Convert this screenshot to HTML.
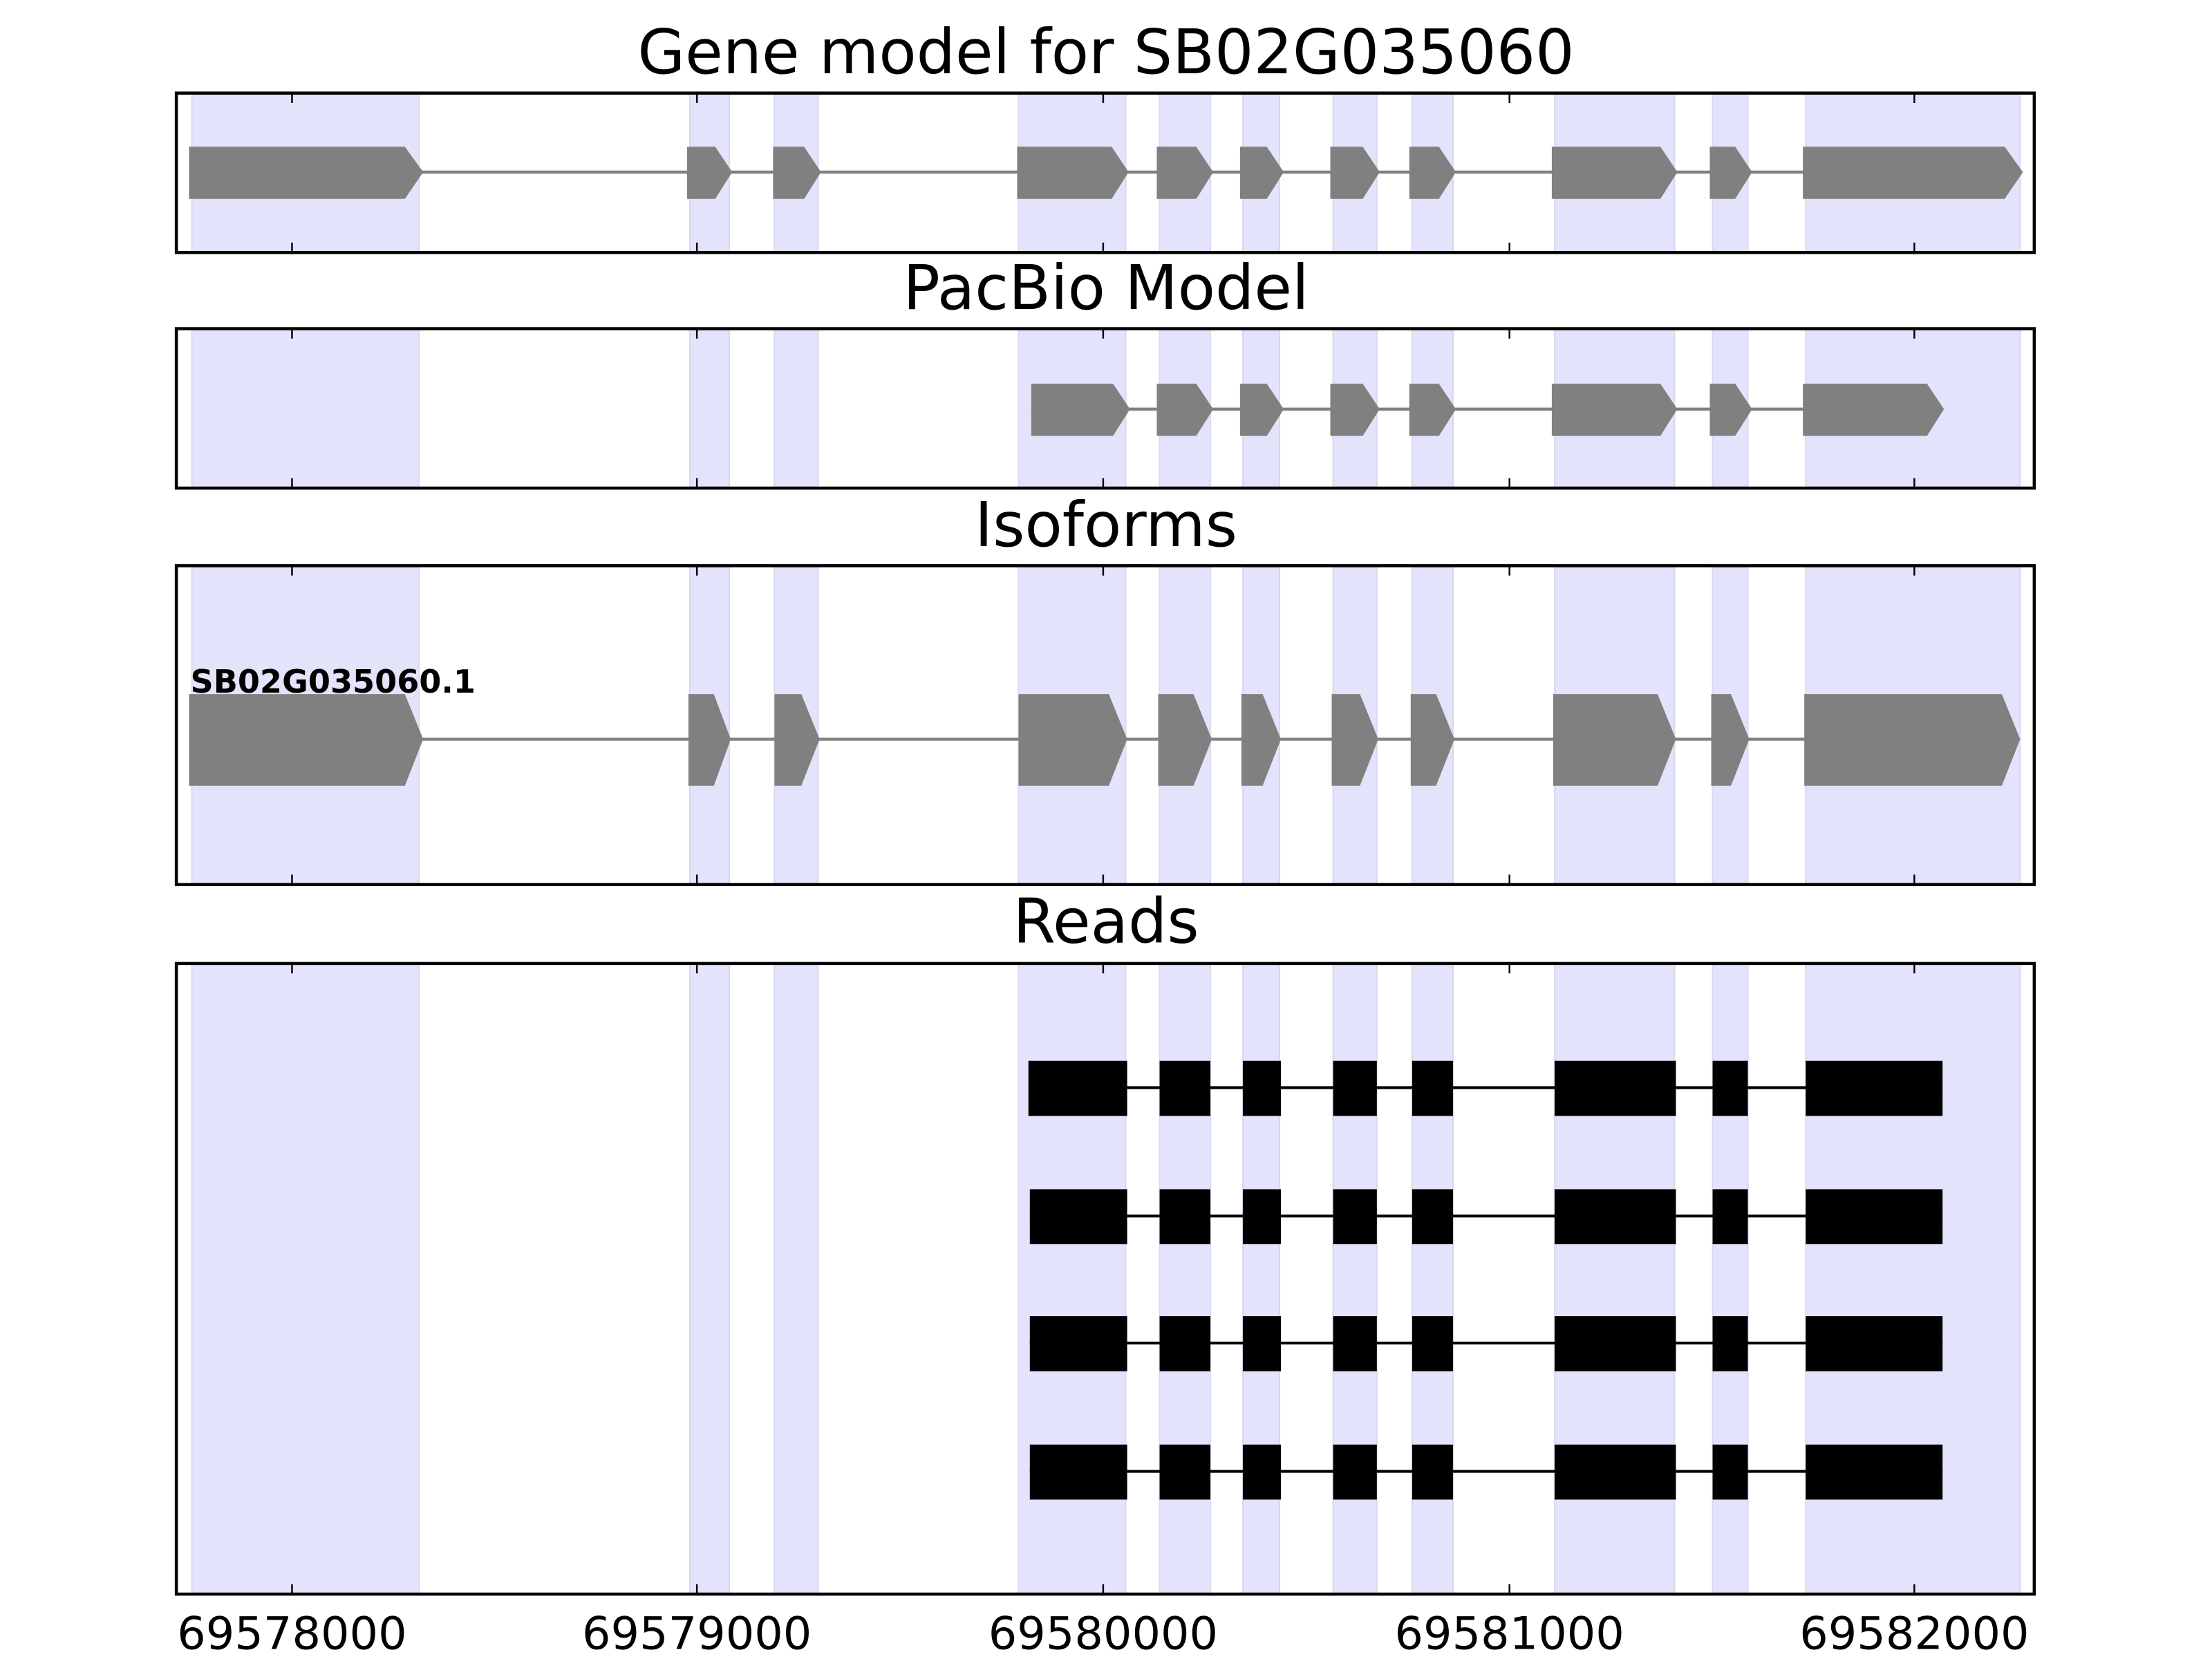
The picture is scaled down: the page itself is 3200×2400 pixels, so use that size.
<!DOCTYPE html>
<html><head><meta charset="utf-8"><style>html,body{margin:0;padding:0;background:#fff}svg{display:block}</style></head>
<body>
<svg xmlns="http://www.w3.org/2000/svg" width="3200" height="2400" viewBox="0 0 1568 1176" font-family="DejaVu Sans, Liberation Sans, sans-serif">
<rect width="1568" height="1176" fill="#fff"/>
<!-- Titles -->
<g font-size="43.5" text-anchor="middle" fill="#000">
<text x="784" y="52">Gene model for SB02G035060</text>
<text x="784" y="219">PacBio Model</text>
<text x="784" y="387">Isoforms</text>
<text x="784" y="668">Reads</text>
</g>
<!-- Bands per panel -->
<g fill="#e3e3fb" stroke="#d8d8ef" stroke-width="1">
<rect x="136" y="66" width="161" height="113"/><rect x="489" y="66" width="28" height="113"/><rect x="549" y="66" width="31" height="113"/><rect x="722" y="66" width="76" height="113"/><rect x="822" y="66" width="36" height="113"/><rect x="881" y="66" width="26" height="113"/><rect x="945" y="66" width="31" height="113"/><rect x="1001" y="66" width="29" height="113"/><rect x="1102" y="66" width="85" height="113"/><rect x="1214" y="66" width="25" height="113"/><rect x="1280" y="66" width="152" height="113"/>
<rect x="136" y="233" width="161" height="113"/><rect x="489" y="233" width="28" height="113"/><rect x="549" y="233" width="31" height="113"/><rect x="722" y="233" width="76" height="113"/><rect x="822" y="233" width="36" height="113"/><rect x="881" y="233" width="26" height="113"/><rect x="945" y="233" width="31" height="113"/><rect x="1001" y="233" width="29" height="113"/><rect x="1102" y="233" width="85" height="113"/><rect x="1214" y="233" width="25" height="113"/><rect x="1280" y="233" width="152" height="113"/>
<rect x="136" y="401" width="161" height="226"/><rect x="489" y="401" width="28" height="226"/><rect x="549" y="401" width="31" height="226"/><rect x="722" y="401" width="76" height="226"/><rect x="822" y="401" width="36" height="226"/><rect x="881" y="401" width="26" height="226"/><rect x="945" y="401" width="31" height="226"/><rect x="1001" y="401" width="29" height="226"/><rect x="1102" y="401" width="85" height="226"/><rect x="1214" y="401" width="25" height="226"/><rect x="1280" y="401" width="152" height="226"/>
<rect x="136" y="683" width="161" height="447"/><rect x="489" y="683" width="28" height="447"/><rect x="549" y="683" width="31" height="447"/><rect x="722" y="683" width="76" height="447"/><rect x="822" y="683" width="36" height="447"/><rect x="881" y="683" width="26" height="447"/><rect x="945" y="683" width="31" height="447"/><rect x="1001" y="683" width="29" height="447"/><rect x="1102" y="683" width="85" height="447"/><rect x="1214" y="683" width="25" height="447"/><rect x="1280" y="683" width="152" height="447"/>
</g>
<!-- Panel 1 gene model -->
<line x1="134" y1="122" x2="1420" y2="122" stroke="#808080" stroke-width="2.2"/>
<g fill="#808080">
<polygon points="134,104 287,104 300,122 287,141 134,141"/>
<polygon points="487,104 507,104 519,122 507,141 487,141"/>
<polygon points="548,104 570,104 582,122 570,141 548,141"/>
<polygon points="721,104 788,104 800,122 788,141 721,141"/>
<polygon points="820,104 848,104 860,122 848,141 820,141"/>
<polygon points="879,104 898,104 910,122 898,141 879,141"/>
<polygon points="943,104 966,104 978,122 966,141 943,141"/>
<polygon points="999,104 1020,104 1032,122 1020,141 999,141"/>
<polygon points="1100,104 1177,104 1189,122 1177,141 1100,141"/>
<polygon points="1212,104 1230,104 1242,122 1230,141 1212,141"/>
<polygon points="1278,104 1421,104 1434,122 1421,141 1278,141"/>
</g>
<!-- Panel 2 PacBio -->
<line x1="731" y1="290" x2="1366" y2="290" stroke="#808080" stroke-width="2.2"/>
<g fill="#808080">
<polygon points="731,272 789,272 801,290 789,309 731,309"/>
<polygon points="820,272 848,272 860,290 848,309 820,309"/>
<polygon points="879,272 898,272 910,290 898,309 879,309"/>
<polygon points="943,272 966,272 978,290 966,309 943,309"/>
<polygon points="999,272 1020,272 1032,290 1020,309 999,309"/>
<polygon points="1100,272 1177,272 1189,290 1177,309 1100,309"/>
<polygon points="1212,272 1230,272 1242,290 1230,309 1212,309"/>
<polygon points="1278,272 1366,272 1378,290 1366,309 1278,309"/>
</g>
<!-- Panel 3 Isoforms -->
<line x1="134" y1="524" x2="1420" y2="524" stroke="#808080" stroke-width="2.2"/>
<g fill="#808080">
<polygon points="134,492 287,492 300,524 287,557 134,557"/>
<polygon points="488,492 506,492 518,524 506,557 488,557"/>
<polygon points="549,492 568,492 581,524 568,557 549,557"/>
<polygon points="722,492 786,492 799,524 786,557 722,557"/>
<polygon points="821,492 846,492 859,524 846,557 821,557"/>
<polygon points="880,492 895,492 908,524 895,557 880,557"/>
<polygon points="944,492 964,492 977,524 964,557 944,557"/>
<polygon points="1000,492 1018,492 1031,524 1018,557 1000,557"/>
<polygon points="1101,492 1175,492 1188,524 1175,557 1101,557"/>
<polygon points="1213,492 1227,492 1240,524 1227,557 1213,557"/>
<polygon points="1279,492 1419,492 1432,524 1419,557 1279,557"/>
</g>
<text x="135" y="491" font-size="22.6" font-weight="bold" fill="#000">SB02G035060.1</text>
<!-- Panel 4 reads -->
<g id="read">
<line x1="730" y1="771" x2="1377" y2="771" stroke="#000" stroke-width="2"/>
<g fill="#000">
<rect x="730" y="752" width="69" height="39"/><rect x="822" y="752" width="36" height="39"/><rect x="881" y="752" width="27" height="39"/><rect x="945" y="752" width="31" height="39"/><rect x="1001" y="752" width="29" height="39"/><rect x="1102" y="752" width="86" height="39"/><rect x="1214" y="752" width="25" height="39"/><rect x="1280" y="752" width="97" height="39"/>
</g>
</g>
<rect x="729" y="752" width="2" height="39" fill="#000"/>
<use href="#read" transform="translate(0,91)"/>
<use href="#read" transform="translate(0,181)"/>
<use href="#read" transform="translate(0,272)"/>
<!-- Panel frames -->
<g fill="none" stroke="#000" stroke-width="2.2">
<rect x="125" y="66" width="1317" height="113"/>
<rect x="125" y="233" width="1317" height="113"/>
<rect x="125" y="401" width="1317" height="226"/>
<rect x="125" y="683" width="1317" height="447"/>
</g>
<!-- Ticks -->
<g stroke="#000" stroke-width="1.2">
<path d="M207,66v7M494,66v7M782,66v7M1070,66v7M1357,66v7M207,179v-7M494,179v-7M782,179v-7M1070,179v-7M1357,179v-7"/>
<path d="M207,233v7M494,233v7M782,233v7M1070,233v7M1357,233v7M207,346v-7M494,346v-7M782,346v-7M1070,346v-7M1357,346v-7"/>
<path d="M207,401v7M494,401v7M782,401v7M1070,401v7M1357,401v7M207,627v-7M494,627v-7M782,627v-7M1070,627v-7M1357,627v-7"/>
<path d="M207,683v7M494,683v7M782,683v7M1070,683v7M1357,683v7M207,1130v-7M494,1130v-7M782,1130v-7M1070,1130v-7M1357,1130v-7"/>
</g>
<g font-size="32" text-anchor="middle" fill="#000">
<text x="207" y="1169">69578000</text>
<text x="494" y="1169">69579000</text>
<text x="782" y="1169">69580000</text>
<text x="1070" y="1169">69581000</text>
<text x="1357" y="1169">69582000</text>
</g>
</svg>
</body></html>
